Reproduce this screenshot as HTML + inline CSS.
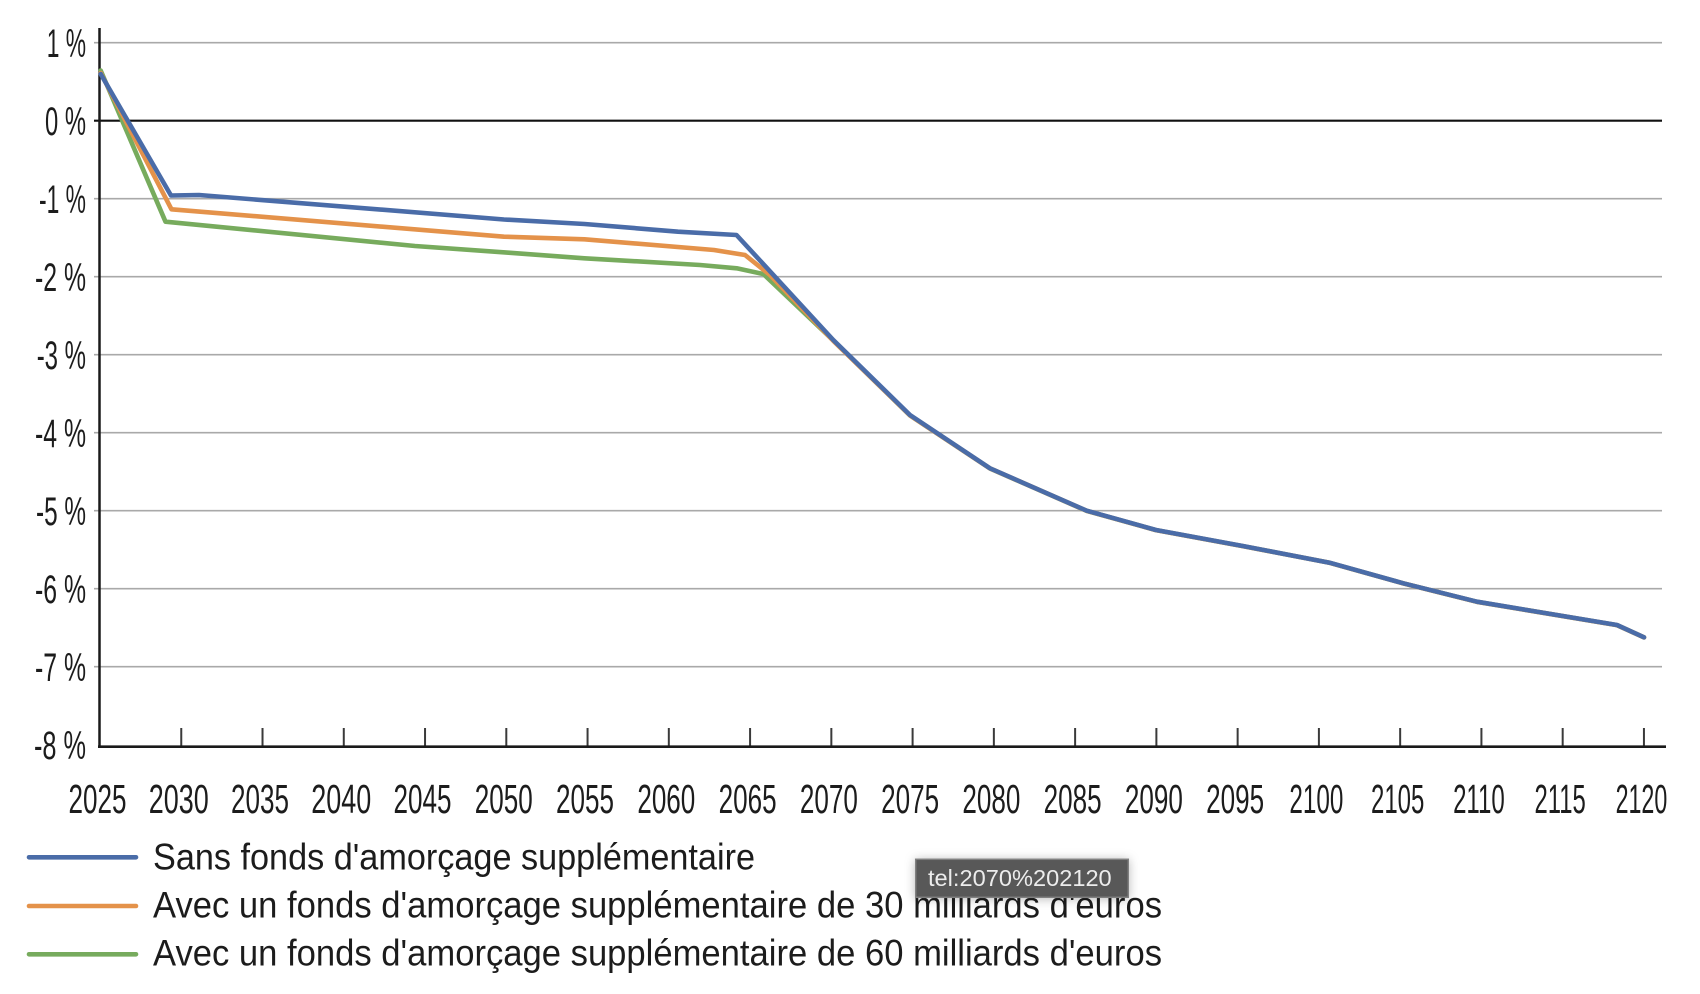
<!DOCTYPE html>
<html>
<head>
<meta charset="utf-8">
<style>
  html, body { margin: 0; padding: 0; background: #ffffff; }
  body { width: 1700px; height: 994px; overflow: hidden; }
  svg { display: block; }
  text { font-family: "Liberation Sans", "DejaVu Sans", sans-serif; fill: #1c1c1c; }
</style>
</head>
<body>
<svg width="1700" height="994" viewBox="0 0 1700 994" xmlns="http://www.w3.org/2000/svg">
  <defs>
    <filter id="sh" x="-20%" y="-60%" width="140%" height="220%">
      <feDropShadow dx="0" dy="1" stdDeviation="5" flood-color="#000" flood-opacity="0.28"/>
    </filter>
  </defs>
  <rect width="1700" height="994" fill="#ffffff"/>

  <!-- gridlines -->
  <g stroke="#a9a9a9" stroke-width="1.6">
    <line x1="94" y1="42.7" x2="1662" y2="42.7"/>
    <line x1="94" y1="198.7" x2="1662" y2="198.7"/>
    <line x1="94" y1="276.7" x2="1662" y2="276.7"/>
    <line x1="94" y1="354.7" x2="1662" y2="354.7"/>
    <line x1="94" y1="432.7" x2="1662" y2="432.7"/>
    <line x1="94" y1="510.7" x2="1662" y2="510.7"/>
    <line x1="94" y1="588.7" x2="1662" y2="588.7"/>
    <line x1="94" y1="666.7" x2="1662" y2="666.7"/>
  </g>
  <!-- zero line -->
  <line x1="94" y1="120.7" x2="1662" y2="120.7" stroke="#111" stroke-width="2.2"/>

  <!-- y labels -->
  <g font-size="40" text-anchor="end">
    <text x="86" y="57.2" textLength="39.3" lengthAdjust="spacingAndGlyphs">1 %</text>
    <text x="86" y="135.2" textLength="41" lengthAdjust="spacingAndGlyphs">0 %</text>
    <text x="86" y="213.2" textLength="47" lengthAdjust="spacingAndGlyphs">-1 %</text>
    <text x="86" y="291.2" textLength="51" lengthAdjust="spacingAndGlyphs">-2 %</text>
    <text x="86" y="369.2" textLength="49.3" lengthAdjust="spacingAndGlyphs">-3 %</text>
    <text x="86" y="447.2" textLength="51" lengthAdjust="spacingAndGlyphs">-4 %</text>
    <text x="86" y="525.2" textLength="50" lengthAdjust="spacingAndGlyphs">-5 %</text>
    <text x="86" y="603.2" textLength="51" lengthAdjust="spacingAndGlyphs">-6 %</text>
    <text x="86" y="681.2" textLength="51" lengthAdjust="spacingAndGlyphs">-7 %</text>
    <text x="86" y="759.2" textLength="52" lengthAdjust="spacingAndGlyphs">-8 %</text>
  </g>

  <!-- x ticks -->
  <g stroke="#3a3a3a" stroke-width="2">
    <line x1="181.26" y1="728" x2="181.26" y2="746"/>
    <line x1="262.52" y1="728" x2="262.52" y2="746"/>
    <line x1="343.78" y1="728" x2="343.78" y2="746"/>
    <line x1="425.04" y1="728" x2="425.04" y2="746"/>
    <line x1="506.3" y1="728" x2="506.3" y2="746"/>
    <line x1="587.56" y1="728" x2="587.56" y2="746"/>
    <line x1="668.82" y1="728" x2="668.82" y2="746"/>
    <line x1="750.08" y1="728" x2="750.08" y2="746"/>
    <line x1="831.34" y1="728" x2="831.34" y2="746"/>
    <line x1="912.6" y1="728" x2="912.6" y2="746"/>
    <line x1="993.86" y1="728" x2="993.86" y2="746"/>
    <line x1="1075.12" y1="728" x2="1075.12" y2="746"/>
    <line x1="1156.38" y1="728" x2="1156.38" y2="746"/>
    <line x1="1237.64" y1="728" x2="1237.64" y2="746"/>
    <line x1="1318.9" y1="728" x2="1318.9" y2="746"/>
    <line x1="1400.16" y1="728" x2="1400.16" y2="746"/>
    <line x1="1481.42" y1="728" x2="1481.42" y2="746"/>
    <line x1="1562.68" y1="728" x2="1562.68" y2="746"/>
    <line x1="1643.94" y1="728" x2="1643.94" y2="746"/>
  </g>

  <!-- axes -->
  <line x1="99.5" y1="28" x2="99.5" y2="748" stroke="#1a1a1a" stroke-width="2.5"/>
  <line x1="98" y1="746.7" x2="1666" y2="746.7" stroke="#1a1a1a" stroke-width="2.6"/>

  <!-- x labels -->
  <g font-size="41" text-anchor="middle">
    <text x="97.5" y="813" textLength="58" lengthAdjust="spacingAndGlyphs">2025</text>
    <text x="178.76" y="813" textLength="60" lengthAdjust="spacingAndGlyphs">2030</text>
    <text x="260.02" y="813" textLength="58" lengthAdjust="spacingAndGlyphs">2035</text>
    <text x="341.28" y="813" textLength="60" lengthAdjust="spacingAndGlyphs">2040</text>
    <text x="422.54" y="813" textLength="58" lengthAdjust="spacingAndGlyphs">2045</text>
    <text x="503.8" y="813" textLength="58" lengthAdjust="spacingAndGlyphs">2050</text>
    <text x="585.06" y="813" textLength="58" lengthAdjust="spacingAndGlyphs">2055</text>
    <text x="666.32" y="813" textLength="58" lengthAdjust="spacingAndGlyphs">2060</text>
    <text x="747.58" y="813" textLength="58" lengthAdjust="spacingAndGlyphs">2065</text>
    <text x="828.84" y="813" textLength="58" lengthAdjust="spacingAndGlyphs">2070</text>
    <text x="910.1" y="813" textLength="58" lengthAdjust="spacingAndGlyphs">2075</text>
    <text x="991.36" y="813" textLength="58" lengthAdjust="spacingAndGlyphs">2080</text>
    <text x="1072.62" y="813" textLength="58" lengthAdjust="spacingAndGlyphs">2085</text>
    <text x="1153.88" y="813" textLength="58" lengthAdjust="spacingAndGlyphs">2090</text>
    <text x="1235.14" y="813" textLength="58" lengthAdjust="spacingAndGlyphs">2095</text>
    <text x="1316.4" y="813" textLength="54" lengthAdjust="spacingAndGlyphs">2100</text>
    <text x="1397.66" y="813" textLength="53.3" lengthAdjust="spacingAndGlyphs">2105</text>
    <text x="1478.92" y="813" textLength="51.7" lengthAdjust="spacingAndGlyphs">2110</text>
    <text x="1560.18" y="813" textLength="51.3" lengthAdjust="spacingAndGlyphs">2115</text>
    <text x="1641.44" y="813" textLength="51.7" lengthAdjust="spacingAndGlyphs">2120</text>
  </g>

  <!-- series -->
  <g fill="none" stroke-width="4.6" stroke-linejoin="round" stroke-linecap="round">
    <path stroke="#77ab5d" d="M100.7,70.5 L165.5,221.7 L415,246 L508.6,252.7 L584.5,258.3 L700,265 L736.7,268.3 L763.3,274 L833.3,340.5 L910,415.5 L990,468.5 L1086.7,510.9 L1156,530.1 L1242.8,546.1 L1329.6,562.8 L1403.3,583.4 L1477,601.8 L1617,625.1 L1644,637.4"/>
    <path stroke="#e4924a" d="M100.7,73 L171.5,209.3 L504,236.7 L584.5,239.3 L714,250 L745,255 L770,275 L833.3,340.8 L910,415.4 L990,468.4 L1086.7,510.8 L1156,530.1 L1242.8,546.1 L1329.6,562.8 L1403.3,583.4 L1477,601.8 L1617,625.1 L1644,637.4"/>
    <path stroke="#4a6ca8" d="M100.7,74 L171,195.5 L199,195 L504,219.5 L584.5,224 L678,231.7 L736.5,235 L833.3,340 L910,415 L990,468.3 L1086.7,510.7 L1156,530 L1242.8,546 L1329.6,562.7 L1403.3,583.3 L1477,601.7 L1617,625 L1644,637.3"/>
  </g>

  <!-- legend -->
  <g stroke-width="4.6" stroke-linecap="round">
    <line x1="29" y1="857.3" x2="136" y2="857.3" stroke="#4a6ca8"/>
    <line x1="29" y1="906" x2="136" y2="906" stroke="#e4924a"/>
    <line x1="29" y1="954.3" x2="136" y2="954.3" stroke="#77ab5d"/>
  </g>
  <g font-size="37.5">
    <text x="153" y="869.3" textLength="602" lengthAdjust="spacingAndGlyphs">Sans fonds d'amorçage supplémentaire</text>
    <text x="153" y="917.5" textLength="1009" lengthAdjust="spacingAndGlyphs">Avec un fonds d'amorçage supplémentaire de 30 milliards d'euros</text>
    <text x="153" y="965.7" textLength="1009" lengthAdjust="spacingAndGlyphs">Avec un fonds d'amorçage supplémentaire de 60 milliards d'euros</text>
  </g>

  <!-- tooltip -->
  <g filter="url(#sh)">
    <rect x="915.7" y="859.3" width="212.6" height="38" fill="#595959" stroke="#808080" stroke-width="1.5"/>
  </g>
  <text x="928" y="886" font-size="23" style="fill:#ececec" textLength="183.7" lengthAdjust="spacingAndGlyphs">tel:2070%202120</text>
</svg>
</body>
</html>
